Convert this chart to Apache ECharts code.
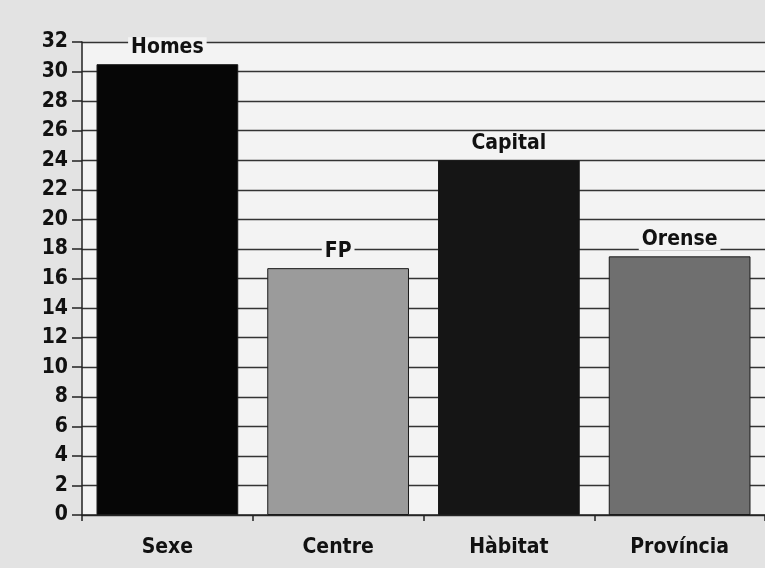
<!DOCTYPE html>
<html><head><meta charset="utf-8">
<script src="https://cdn.jsdelivr.net/npm/echarts@6/dist/echarts.min.js"></script>
<style>html,body{margin:0;padding:0;background:#e3e3e3;}#c{width:765px;height:568px;}</style>
</head><body><div id="c"></div>
<script>
const categories = ['Sexe', 'Centre', 'Hàbitat', 'Província'];
const values = [30.5, 16.7, 24.0, 17.5];
const barLabels = ['Homes', 'FP', 'Capital', 'Orense'];
const barColors = ['#060606', '#9b9b9b', '#151515', '#6f6f6f'];
const yTicks = [0, 2, 4, 6, 8, 10, 12, 14, 16, 18, 20, 22, 24, 26, 28, 30, 32];

const FONT = '"DejaVu Sans Condensed", "Liberation Sans Narrow", "Arial Narrow", sans-serif';
const chart = echarts.init(document.getElementById('c'), null, {renderer: 'canvas'});
chart.setOption({
  backgroundColor: '#e3e3e3',
  animation: false,
  grid: {left: 82, top: 42, bottom: 53, right: -5, show: true, backgroundColor: '#f3f3f3', borderWidth: 0},
  xAxis: {
    type: 'category', data: categories,
    axisLine: {lineStyle: {color: '#222', width: 1.5}},
    axisTick: {show: true, length: 6, lineStyle: {color: '#222', width: 1.5}},
    axisLabel: {color: '#111', fontFamily: FONT, fontWeight: 'bold', fontSize: 21, margin: 22}
  },
  yAxis: {
    type: 'value', min: 0, max: 32, interval: 2,
    axisLine: {show: true, lineStyle: {color: '#222', width: 1.5}},
    axisTick: {show: true, length: 10, lineStyle: {color: '#222', width: 1.5}},
    axisLabel: {color: '#111', fontFamily: FONT, fontWeight: 'bold', fontSize: 21, margin: 14,
      formatter: v => yTicks.includes(v) ? String(v) : ''},
    splitLine: {show: true, lineStyle: {color: '#333', width: 1.3}}
  },
  series: [{
    type: 'bar',
    barCategoryGap: '17%',
    data: values.map((v, i) => ({
      value: v,
      itemStyle: {color: barColors[i], borderColor: '#1a1a1a', borderWidth: 1},
      label: {formatter: barLabels[i]}
    })),
    label: {
      show: true, position: 'top', distance: 6,
      color: '#111', fontFamily: FONT, fontWeight: 'bold', fontSize: 21,
      backgroundColor: '#f3f3f3', padding: [0, 3]
    }
  }]
});
</script></body></html>
